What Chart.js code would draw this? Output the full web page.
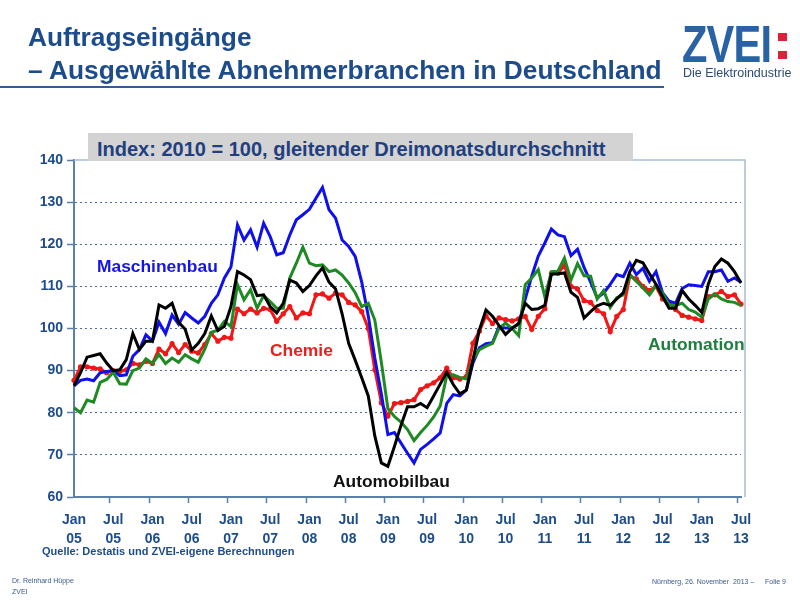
<!DOCTYPE html>
<html>
<head>
<meta charset="utf-8">
<script src="https://cdn.jsdelivr.net/npm/chart.js@4/dist/chart.umd.min.js"></script>
<style>
    body { margin: 0; background: #fff; }
    #page { position: relative; width: 800px; height: 600px; overflow: hidden; font-family: Arial, "Liberation Sans", sans-serif; }
    #chart { position: absolute; left: 0; top: 0; }
    .txt { position: absolute; white-space: nowrap; font-weight: bold; line-height: 1; }
    .title { left: 28px; font-size: 26.3px; color: #1d4c8c; }
    .rule { position: absolute; left: 0; top: 86px; width: 664px; height: 2px; background: #2f5e98; }
    .logo { left: 682px; top: 18px; font-size: 52px; color: #2a62a6; transform: scaleX(0.8); transform-origin: left top; letter-spacing: -1px; }
    .colon { position: absolute; left: 778px; width: 9px; height: 8px; background: #e0203a; }
    .tag { left: 683px; top: 67px; font-size: 12.5px; font-weight: normal; color: #2a4a7a; }
    .box { position: absolute; left: 88px; top: 133px; width: 545px; height: 28px; background: #d3d3d3; }
    .sub { left: 97px; top: 139px; font-size: 20px; color: #1f3f7f; }
    .series { font-size: 17.4px; }
    .foot { font-weight: normal; font-size: 7px; color: #3a5a8a; }
</style>
</head>
<body>
<div id="page">
    <canvas id="chart" width="800" height="600"></canvas>

    <div class="txt title" style="top:24px">Auftragseingänge</div>
    <div class="txt title" style="top:57px">– Ausgewählte Abnehmerbranchen in Deutschland</div>
    <div class="rule"></div>

    <div class="txt logo">ZVEI</div>
    <div class="colon" style="top:33px"></div>
    <div class="colon" style="top:51px"></div>
    <div class="txt tag">Die Elektroindustrie</div>

    <div class="box"></div>
    <div class="txt sub">Index: 2010 = 100, gleitender Dreimonatsdurchschnitt</div>

    <div class="txt series" style="left:97px; top:258px; color:#1414e6">Maschinenbau</div>
    <div class="txt series" style="left:270px; top:342px; color:#e8201c">Chemie</div>
    <div class="txt series" style="left:648px; top:336px; color:#1e7f3c">Automation</div>
    <div class="txt series" style="left:333px; top:473px; color:#111">Automobilbau</div>

    <div class="txt" style="left:42px; top:546px; font-size:11px; color:#1d4c8c">Quelle: Destatis und ZVEI-eigene Berechnungen</div>

    <div class="txt foot" style="left:12px; top:577px">Dr. Reinhard Hüppe</div>
    <div class="txt foot" style="left:12px; top:588px">ZVEI</div>
    <div class="txt foot" style="left:652px; top:578px">Nürnberg, 26. November&nbsp; 2013 –</div>
    <div class="txt foot" style="left:765px; top:578px">Folie 9</div>
</div>

<script>
const monthNames = ['Jan', 'Feb', 'Mär', 'Apr', 'Mai', 'Jun', 'Jul', 'Aug', 'Sep', 'Okt', 'Nov', 'Dez'];
const years = ['05', '06', '07', '08', '09', '10', '11', '12', '13'];
const lastMonth = 'Jul 13';

const maschinenbau = [
    86.4, 87.7, 88, 87.6, 89.5, 89.8, 90, 88.8, 89, 93.4, 95, 98.5,
    97, 101.5, 98.8, 103.2, 101, 103.8, 102.5, 101.3, 102.9, 106, 108, 112,
    114.6, 124.6, 121, 123.4, 119.3, 125, 121.8, 117.5, 118, 122.2, 125.8, 127,
    128.3, 130.9, 133.5, 128.2, 126.2, 121, 119.5, 117.1, 111, 103, 93, 84.5,
    74.8, 75.3, 72.8, 70.4, 68.1, 71.3, 72.5, 73.8, 75.2, 82.2, 84.3, 84,
    85.4, 91.8, 95.4, 96.4, 96.6, 100.5, 100.1, 100.1, 101, 107, 112.4, 117.2,
    120.3, 123.6, 122.2, 121.8, 117.3, 118.8, 114.5, 111, 107.3, 108.4, 110.5, 112.8,
    112.3, 115.5, 112.8, 114.3, 111.2, 113.5, 108.5, 106.5, 106, 109.5, 110.4, 110.2,
    110, 113.5, 113.5, 113.9, 111.2, 112, 111
];

const automobilbau = [
    86.4, 89.5, 93.2, 93.6, 94, 91.8, 90, 90.2, 92.6, 98.8, 95, 97,
    97, 105.6, 104.8, 106, 101.5, 99.8, 94.9, 96.5, 98.8, 103, 99.5, 100.5,
    105.2, 113.5, 112.7, 111.6, 107.8, 108, 105.2, 103.7, 106, 111.5, 110.8, 108.8,
    110.2, 112.5, 114.4, 111, 109.4, 103.5, 96.5, 92.5, 88.3, 84, 74.5, 68.1,
    67.3, 72, 77, 81.4, 81.4, 82.2, 81.2, 84, 86.8, 89.6, 86.7, 84.5,
    85.4, 92.5, 99.7, 104.4, 102.9, 100.7, 98.6, 100.1, 101.2, 106, 104.5, 104.7,
    105.5, 112.9, 113, 113.2, 108.6, 107.4, 102.5, 104, 105.4, 106, 105.5, 107,
    108.5, 113.5, 116.2, 115.6, 113, 110.5, 107.6, 104.8, 104.8, 109, 107, 105.5,
    103.8, 110.5, 114.7, 116.5, 115.5, 113.5, 110.8
];

const automation = [
    81.2, 80, 83, 82.5, 87.2, 87.9, 89.6, 86.9, 86.8, 90, 90.6, 92.8,
    91.7, 93.8, 91.7, 93, 92, 93.8, 92.8, 92, 95.1, 99.1, 99.6, 101.7,
    100.5, 110.4, 106.8, 109.2, 104.8, 107.8, 106.4, 104.8, 104.8, 112, 115.5, 119.3,
    115.5, 114.9, 115.1, 113.5, 113.9, 112.7, 110.8, 108.5, 105.2, 106, 102, 92,
    81, 79.1, 77.8, 76, 73.4, 75.3, 77, 79, 81.6, 88.8, 89, 88.4,
    88, 92.6, 95, 95.8, 96.5, 100, 101.3, 100, 98.3, 110.4, 112, 114,
    107.5, 113.5, 113.6, 116.7, 111.5, 115.4, 112.5, 112.4, 107, 109, 105, 107.3,
    108, 112.7, 111.2, 109.6, 108, 110.2, 108.4, 105.6, 105.4, 106, 104.5, 103.9,
    102.7, 107, 108.2, 107, 106.4, 106.2, 105.5
];

const chemie = [
    87.7, 90.9, 90.9, 90.6, 90.4, 89.5, 90, 89.8, 90.2, 91.7, 91.4, 92.2,
    91.7, 95.1, 94, 96.4, 94.3, 96.2, 94.6, 94.2, 96.2, 98.8, 97, 97.9,
    97.7, 104.6, 103.5, 104.6, 103.7, 104.8, 104.5, 101.7, 103.5, 105.2, 102.5, 103.7,
    103.5, 108, 108.2, 107.2, 108.4, 108, 106.2, 105.6, 104, 100, 90.2, 82.4,
    79.2, 82.2, 82.4, 82.7, 83.1, 85.5, 86.4, 87.1, 88.3, 90.6, 88.3, 88,
    88.6, 96.5, 99.4, 103, 101.2, 102.5, 102.1, 101.8, 102.3, 102.9, 99.8, 102.9,
    104.7, 113.1, 113.1, 115, 110, 109.4, 106.6, 106.2, 104.3, 103.5, 99.3, 102.9,
    104.5, 112.5, 111.8, 110, 109, 110, 107, 106.2, 104.5, 103.1, 102.7, 102.3,
    101.9, 107.6, 108, 108.8, 107.6, 108, 105.8
];

// Monatsachse Jan 05 .. Jul 13
const labels = [];
for (const y of years) {
    for (const m of monthNames) {
        labels.push(m + ' ' + y);
        if (m + ' ' + y === lastMonth) break;
    }
}

const axisBlue = '#5b80aa';
const textBlue = '#1d4c8c';
const tickFont = { family: 'Arial, "Liberation Sans", sans-serif', size: 14, weight: 'bold', lineHeight: 1.35 };

const frame = {
    id: 'frame',
    beforeDatasetsDraw(chart) {
        const { ctx, chartArea: a } = chart;
        ctx.save();
        ctx.strokeStyle = '#a9bdd3';
        ctx.lineWidth = 1.5;
        ctx.beginPath();
        ctx.moveTo(a.left, a.top);
        ctx.lineTo(a.right + 4, a.top);
        ctx.lineTo(a.right + 4, a.bottom);
        ctx.stroke();
        ctx.restore();
    }
};

const data = {
    labels: labels,
    datasets: [{
        label: 'Automobilbau',
        data: automobilbau,
        borderColor: '#000000',
        order: 1
    },
    {
        label: 'Automation',
        data: automation,
        borderColor: '#1f8a24',
        order: 2
    },
    {
        label: 'Maschinenbau',
        data: maschinenbau,
        borderColor: '#1010ee',
        order: 3
    },
    {
        label: 'Chemie',
        data: chemie,
        borderColor: '#f21616',
        pointRadius: 2.6,
        pointBackgroundColor: '#f21616',
        pointBorderWidth: 0,
        order: 4
    }]
};

const config = {
    type: 'line',
    data: data,
    plugins: [frame],
    options: {
        responsive: false,
        animation: false,
        devicePixelRatio: 1,
        layout: { padding: { top: 160, left: 0, right: 59, bottom: 43 } },
        elements: {
            line: { borderWidth: 3, tension: 0 },
            point: { radius: 0 }
        },
        plugins: {
            legend: { display: false },
            tooltip: { enabled: false }
        },
        scales: {
            x: {
                offset: false,
                afterFit: (scale) => { scale.height = 60; },
                border: { color: axisBlue, width: 2 },
                grid: {
                    offset: true,
                    drawOnChartArea: false,
                    tickLength: 6,
                    tickWidth: 1.5,
                    tickColor: (ctx) => ctx.index % 6 === 0 ? axisBlue : 'transparent'
                },
                ticks: {
                    autoSkip: false,
                    maxRotation: 0,
                    padding: 8,
                    color: textBlue,
                    font: tickFont,
                    callback: (val, i) => i % 6 === 0 ? labels[i].split(' ') : ''
                }
            },
            y: {
                min: 60,
                max: 140,
                afterFit: (scale) => { scale.width = 74; },
                border: { color: axisBlue, width: 2, dash: [2, 3] },
                grid: {
                    color: (ctx) => (ctx.tick.value === 60 || ctx.tick.value === 140) ? 'transparent' : '#4f6d8f',
                    lineWidth: 1,
                    tickLength: 7,
                    tickWidth: 1.5,
                    tickColor: axisBlue
                },
                ticks: {
                    stepSize: 10,
                    padding: 4,
                    color: textBlue,
                    font: tickFont
                }
            }
        }
    }
};

const chart = new Chart(document.getElementById('chart'), config);
</script>
</body>
</html>
